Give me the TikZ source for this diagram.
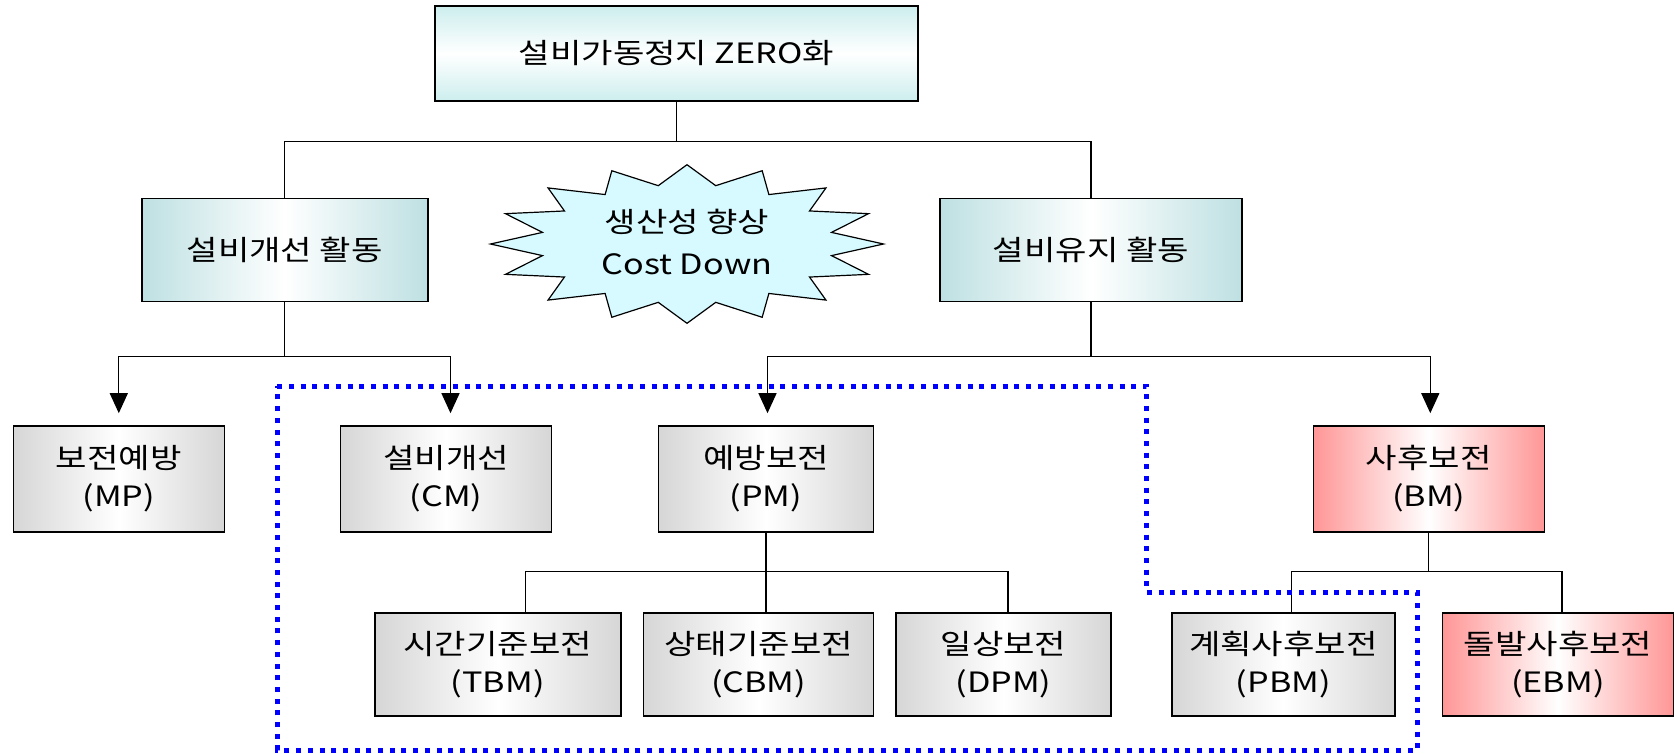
\documentclass[tikz,border=0pt]{standalone}
\usepackage{fontspec}
\setmainfont{Noto Sans CJK KR}[FakeStretch=1.22]
\usetikzlibrary{arrows.meta, positioning, calc}

\definecolor{tealtint}{RGB}{190,224,226}
\definecolor{cyantint}{RGB}{205,238,238}
\definecolor{graytint}{RGB}{214,214,214}
\definecolor{redtint}{RGB}{255,150,150}
\definecolor{bursttint}{RGB}{214,250,255}

\begin{document}
\begin{tikzpicture}[x=1pt, y=-1pt,
		font=\fontsize{28}{38}\selectfont,
		box/.style={draw, line width=1.6pt, inner sep=0pt, align=center},
		goalbox/.style={box, top color=cyantint, bottom color=cyantint, middle color=white},
		actbox/.style={box, left color=tealtint, right color=tealtint, middle color=white},
		graybox/.style={box, left color=graytint, right color=graytint, middle color=white},
		redbox/.style={box, left color=redtint, right color=redtint, middle color=white},
		link/.style={line width=1.3pt},
		arr/.style={link, -{Triangle[length=20pt, width=18pt]}, shorten >=12pt},
		zone/.style={blue, line width=5pt, dash pattern=on 5pt off 6.7pt}]
		\useasboundingbox (0,0) rectangle (1674,753);

		% Goal and activities
		\node[goalbox, minimum width=483, minimum height=95] (Goal) at (676.5,53.5) {설비가동정지 ZERO화};
		\node[actbox, minimum width=286, minimum height=103] (ImpAct) at (284.7,250) {설비개선 활동};
		\node[actbox, minimum width=302, minimum height=103] (MntAct) at (1091,250) {설비유지 활동};

		% Burst
		\draw[line width=1.2pt, fill=bursttint] plot[variable=\k, samples at={0,...,31}]
			({687+196.5*ifthenelse(mod(\k,2)==0,1,0.75)*cos(90+11.25*\k)},
			 {244-79.3*ifthenelse(mod(\k,2)==0,1,0.75)*sin(90+11.25*\k)}) -- cycle;
		\node[align=center, font=\fontsize{28}{42}\selectfont] (Gain) at (687,242) {생산성 향상\\Cost Down};

		% Second row
		\node[graybox, minimum width=211, minimum height=106] (MP) at (118.8,479) {보전예방\\(MP)};
		\node[graybox, minimum width=211, minimum height=106] (CM) at (446,479) {설비개선\\(CM)};
		\node[graybox, minimum width=215, minimum height=106] (PM) at (766,479) {예방보전\\(PM)};
		\node[redbox, minimum width=231, minimum height=106] (BM) at (1428.8,479) {사후보전\\(BM)};

		% Third row
		\node[graybox, minimum width=246, minimum height=103] (TBM) at (497.7,664.5) {시간기준보전\\(TBM)};
		\node[graybox, minimum width=230, minimum height=103] (CBM) at (758.6,664.5) {상태기준보전\\(CBM)};
		\node[graybox, minimum width=215, minimum height=103] (DPM) at (1003.5,664.5) {일상보전\\(DPM)};
		\node[graybox, minimum width=223, minimum height=103] (PBM) at (1283.3,664.5) {계획사후보전\\(PBM)};
		\node[redbox, minimum width=231, minimum height=103] (EBM) at (1558,664.5) {돌발사후보전\\(EBM)};

		% Connectors
		\draw[link] (Goal.south) -- ++(0,39.6) -| (ImpAct.north);
		\draw[link] (Goal.south) -- ++(0,39.6) -| (MntAct.north);
		\draw[arr] (ImpAct.south) -- ++(0,54) -| (MP.north);
		\draw[arr] (ImpAct.south) -- ++(0,54) -| ([xshift=4.5pt]CM.north);
		\draw[arr] (MntAct.south) -- ++(0,54) -| ([xshift=1.5pt]PM.north);
		\draw[arr] (MntAct.south) -- ++(0,54) -| ([xshift=1.5pt]BM.north);
		\draw[link] (PM.south) -- ++(0,38.6) -| ([xshift=28pt]TBM.north);
		\draw[link] (PM.south) -- (PM.south |- CBM.north);
		\draw[link] (PM.south) -- ++(0,38.6) -| ([xshift=4.5pt]DPM.north);
		\draw[link] (BM.south) -- ++(0,38.6) -| ([xshift=8pt]PBM.north);
		\draw[link] (BM.south) -- ++(0,38.6) -| ([xshift=4pt]EBM.north);

		% Preventive zone
		\draw[zone] (277.3,386) -- (1146.7,386) -- (1146.7,592.7) -- (1417.6,592.7)
			-- (1417.6,750) -- (277.3,750) -- cycle;
	\end{tikzpicture}
\end{document}
